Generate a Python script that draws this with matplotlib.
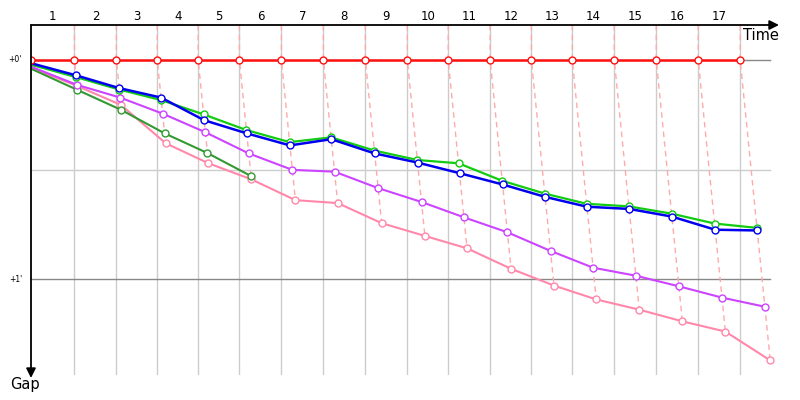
import matplotlib
matplotlib.use("Agg")
from matplotlib import pyplot as plt

# leader cumulative time (s) at the end of each lap, lap 0 = start
leader_time = [0, 119, 234, 346, 458, 571, 686, 801, 916, 1031, 1143, 1258, 1371, 1483, 1598, 1713, 1828, 1943]
lap_labels = [str(i) for i in range(1, 18)]

# gap to the leader (s) at each lap
gap_red = [0] * 18
gap_blue = [0.9, 4.2, 7.7, 10.3, 16.5, 20.1, 23.4, 21.7, 25.6, 28.1, 31.0, 34.1, 37.5, 40.2, 40.8, 42.9, 46.5, 46.7]
gap_green = [1.3, 4.7, 8.1, 11.0, 14.9, 19.2, 22.5, 21.2, 24.8, 27.4, 28.3, 33.1, 36.6, 39.4, 40.1, 42.1, 44.8, 46.0]
gap_magenta = [1.9, 6.8, 10.3, 14.7, 19.8, 25.6, 30.1, 30.6, 35.1, 38.9, 43.1, 47.2, 52.3, 56.9, 59.1, 62.0, 65.1, 67.6]
gap_pink = [2.2, 7.1, 12.3, 22.8, 28.3, 32.7, 38.4, 39.2, 44.7, 48.2, 51.6, 57.2, 61.8, 65.6, 68.4, 71.6, 74.4, 82.3]
gap_dkgreen = [2.5, 8.2, 13.7, 20.1, 25.5, 31.8]  # retired after lap 5

cars = [
    (gap_pink, "#ff88aa", 1.5),
    (gap_dkgreen, "#339933", 1.5),
    (gap_magenta, "#cc44ff", 1.5),
    (gap_green, "#11cc11", 1.6),
    (gap_blue, "#0000ee", 1.8),
    (gap_red, "#ff1111", 1.8),
]

fig = plt.figure(figsize=(8, 4), dpi=100)
ax = fig.add_axes([31 / 800, 25 / 400, 747 / 800, 350 / 400])
ax.set_xlim(0, 747 / 0.365)
ax.set_ylim(315 / 3.65, -35 / 3.65)
ax.axis("off")

top = -35 / 3.65
# lap grid lines
for t in leader_time[1:]:
    ax.plot([t, t], [top, 86.3], color="#cccccc", lw=1, zorder=1)
# gap grid lines
xend = 739 / 0.365
ax.plot([0, xend], [30, 30], color="#cccccc", lw=1, zorder=1)
ax.plot([0, xend], [0, 0], color="#888888", lw=1, zorder=1)
ax.plot([0, xend], [60, 60], color="#888888", lw=1, zorder=1)

# dashed lines joining the same lap across cars
for k in range(1, 18):
    gaps = sorted(g[k] for g, c, w in cars if len(g) > k)
    xs = [leader_time[k]] + [leader_time[k] + g for g in gaps]
    ys = [top] + gaps
    ax.plot(xs, ys, color="#ffaaaa", lw=1, ls=(0, (4, 3)), zorder=2)

for gaps, col, w in cars:
    xs = [leader_time[i] + g for i, g in enumerate(gaps)]
    start = 0 if gaps is gap_red else 1
    ax.plot(xs, gaps, color=col, lw=w, marker="o", ms=5, mfc="white",
            mec=col, mew=1.0, markevery=slice(start, None), zorder=3)

# lap numbers between grid lines
for k in range(1, 18):
    xm = (leader_time[k - 1] + leader_time[k]) / 2
    ax.text(xm, 1.0229, lap_labels[k - 1], transform=ax.get_xaxis_transform(),
            ha="center", va="center", fontsize=8.5)

ax.text(-0.012, 0, "+0'", transform=ax.get_yaxis_transform(), ha="right",
        va="center", fontsize=5.5)
ax.text(-0.012, 60, "+1'", transform=ax.get_yaxis_transform(), ha="right",
        va="center", fontsize=5.5)

# axis arrows
arrow = dict(arrowstyle="-|>", color="black", lw=1.3, mutation_scale=14,
             shrinkA=0, shrinkB=0)
ax.annotate("", xy=(779, 375), xytext=(31, 375), xycoords="figure pixels",
            arrowprops=arrow)
ax.annotate("", xy=(31, 22), xytext=(31, 375), xycoords="figure pixels",
            arrowprops=arrow)
fig.text(743 / 800, 365 / 400, "Time", ha="left", va="center", fontsize=10.5)
fig.text(25 / 800, 15 / 400, "Gap", ha="center", va="center", fontsize=10.5)

fig.savefig("out.png", dpi=100)
